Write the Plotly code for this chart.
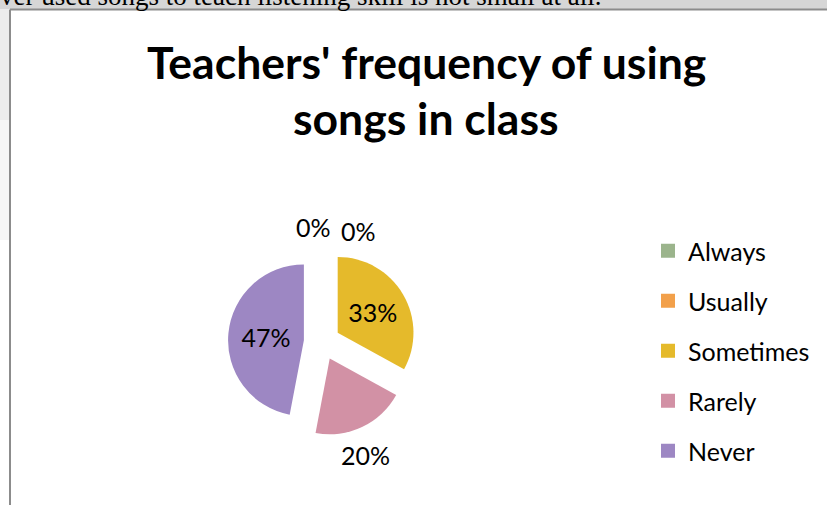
import plotly.graph_objects as go

# Survey answers: how often teachers use songs in class
categories = ["Always", "Usually", "Sometimes", "Rarely", "Never"]
shares = [0, 0, 33, 20, 47]
slice_colors = ["#9bb48c", "#f2a04a", "#e5ba2b", "#d291a5", "#9d87c3"]
label_positions = ["none", "none", "inside", "none", "inside"]

title_lines = ["Teachers' frequency of using", "songs in class"]
caption = "ver used songs to teach listening skill is not small at all."

W, H = 827, 505


def px(x):
    return x / W


def py(y):
    return 1 - y / H


fig = go.Figure()

fig.add_trace(go.Pie(
    labels=categories,
    values=shares,
    marker=dict(colors=slice_colors, line=dict(width=0)),
    sort=False,
    direction="clockwise",
    rotation=0,
    pull=[0.24] * len(categories),
    textposition=label_positions,
    texttemplate="%{percent:.0%}",
    insidetextorientation="horizontal",
    textfont=dict(family="Lato", size=25, color="#000000"),
    domain=dict(x=[px(228), px(416)], y=[py(436), py(248)]),
    showlegend=False,
    hoverinfo="label+percent",
))

# Legend entries, one group each so the groups can be spaced apart
for name, col in zip(categories, slice_colors):
    fig.add_trace(go.Scatter(
        x=[None], y=[None], mode="markers", name=name,
        legendgroup=name,
        marker=dict(symbol="square", size=14, color=col),
        showlegend=True,
    ))

# Data labels set outside the pie (the two empty categories sit side by side at the top)
outside_label_spots = {"Always": (313, 227), "Usually": (358, 231), "Rarely": (365, 455)}
label_annotations = []
for name, val in zip(categories, shares):
    if name in outside_label_spots:
        lx, ly = outside_label_spots[name]
        label_annotations.append(dict(
            text="%d%%" % val, xref="paper", yref="paper", x=px(lx), y=py(ly),
            xanchor="center", yanchor="middle", showarrow=False,
            font=dict(family="Lato", size=25, color="#000000")))

# Frame of the embedded chart and the page strip above it
shapes = [
    dict(type="rect", xref="paper", yref="paper", x0=0, x1=1, y0=py(9), y1=1,
         fillcolor="#d6d6d6", line=dict(width=0), layer="below"),
    dict(type="rect", xref="paper", yref="paper", x0=0, x1=px(9), y0=py(120), y1=py(9),
         fillcolor="#ececec", line=dict(width=0), layer="below"),
    dict(type="rect", xref="paper", yref="paper", x0=0, x1=px(9), y0=py(240), y1=py(120),
         fillcolor="#f6f6f6", line=dict(width=0), layer="below"),
    dict(type="line", xref="paper", yref="paper", x0=px(10), x1=1, y0=py(9.5), y1=py(9.5),
         line=dict(color="#8c8c8c", width=2)),
    dict(type="line", xref="paper", yref="paper", x0=px(10), x1=px(10), y0=0, y1=py(9.5),
         line=dict(color="#8c8c8c", width=2)),
]

annotations = [
    dict(text=caption, xref="paper", yref="paper", x=px(-2), y=py(13),
         xanchor="left", yanchor="bottom", showarrow=False,
         font=dict(family="Liberation Serif", size=27, color="#000000")),
    dict(text="<b>%s</b>" % title_lines[0], xref="paper", yref="paper", x=px(426), y=py(61),
         xanchor="center", yanchor="middle", showarrow=False,
         font=dict(family="Lato", size=44.5, color="#000000")),
    dict(text="<b>%s</b>" % title_lines[1], xref="paper", yref="paper", x=px(426), y=py(118),
         xanchor="center", yanchor="middle", showarrow=False,
         font=dict(family="Lato", size=44.5, color="#000000")),
] + label_annotations

fig.update_layout(
    width=W, height=H,
    margin=dict(l=0, r=0, t=0, b=0),
    paper_bgcolor="#ffffff",
    plot_bgcolor="rgba(0,0,0,0)",
    xaxis=dict(visible=False),
    yaxis=dict(visible=False),
    shapes=shapes,
    annotations=annotations,
    legend=dict(
        x=px(648), y=py(228), xanchor="left", yanchor="top",
        font=dict(family="Lato", size=25, color="#000000"),
        tracegroupgap=14.5,
        bgcolor="rgba(0,0,0,0)",
    ),
)

fig.write_html("out.html")
